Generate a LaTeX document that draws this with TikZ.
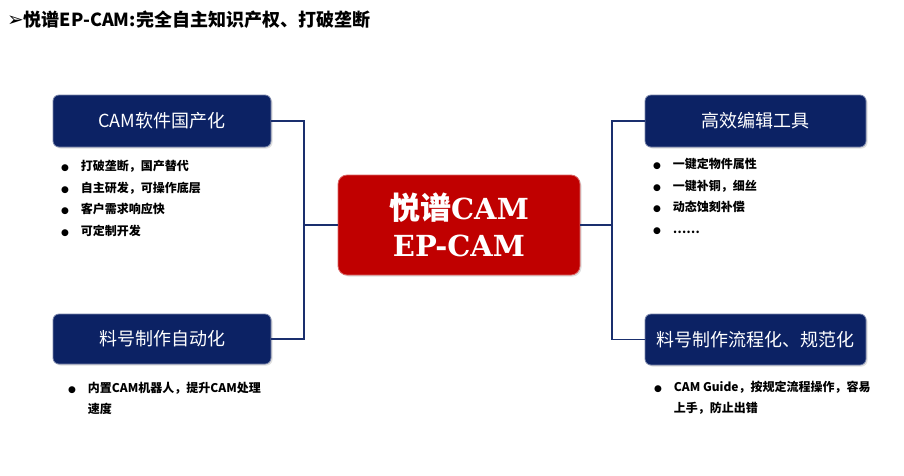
\documentclass[tikz,border=0pt]{standalone}
\usepackage{fontspec}
\setmainfont{Noto Sans CJK SC}
\newfontfamily\dingfont{DejaVu Sans}
\newfontfamily\corefont{DejaVu Serif}
\usepackage{tikz}
\usetikzlibrary{shadows}
\definecolor{dnavy}{HTML}{0C2264}
\definecolor{dline}{HTML}{1A2F6E}
\definecolor{dred}{HTML}{C00000}
\newcommand\itm{\makebox[19.7pt][l]{\dingfont\fontsize{9pt}{9pt}\selectfont ●}}
\newcommand\nxt{\hspace*{19.7pt}}
\tikzstyle{topic}=[rounded corners=6pt,fill=dnavy,draw=dnavy!55!white,line width=.8pt,text=white,
	minimum width=218pt,minimum height=52pt,inner sep=0pt,font=\fontsize{18pt}{18pt}\selectfont,
	drop shadow={shadow xshift=1.5pt,shadow yshift=-1.5pt,opacity=.25}]
\tikzstyle{corebox}=[rounded corners=9pt,fill=dred,draw=dred!60!white,line width=.8pt,text=white,
	minimum width=242pt,minimum height=100pt,align=center,
	font=\corefont\bfseries\fontsize{29pt}{37pt}\selectfont,
	drop shadow={shadow xshift=1.5pt,shadow yshift=-1.5pt,opacity=.25}]
\tikzstyle{link}=[draw=dline,line width=1.8pt]
\tikzstyle{items}=[align=left,anchor=base west,inner sep=0pt,font=\bfseries\fontsize{12pt}{21.7pt}\selectfont]
\begin{document}
\begin{tikzpicture}[x=1pt,y=-1pt]
	\useasboundingbox (0,0) rectangle (904,475);
	\node[anchor=west,inner sep=0pt,font=\bfseries\fontsize{18pt}{18pt}\selectfont] (title) at (7,20)
		{{\dingfont\fontsize{20pt}{20pt}\selectfont ➢}悦谱EP-CAM:完全自主知识产权、打破垄断};
	\node[corebox] (core) at (459,225) {{\rmfamily\fontsize{31pt}{37pt}\selectfont 悦谱}CAM\\EP-CAM};
	\node[topic] (soft) at (162,121) {CAM软件国产化};
	\node[topic,minimum height=50pt] (auto) at (162,339) {料号制作自动化};
	\node[topic,minimum width=221pt] (tool) at (755.5,121) {高效编辑工具};
	\node[topic,minimum width=221pt,minimum height=51pt] (flow) at (755.5,339.5) {料号制作流程化、规范化};
	\coordinate (lj) at (304,225);
	\coordinate (rj) at (612,225);
	\draw[link] (soft.east) -- (soft.east -| lj) -- (auto.east -| lj) -- (auto.east);
	\draw[link] (lj) -- (core.west);
	\draw[link] (tool.west) -- (tool.west -| rj) -- (flow.west -| rj) -- (flow.west);
	\draw[link] (rj) -- (core.east);
	% bullet lists under the topics (placed by their last line)
	\node[items] (softlist) at (61,235.6) {\itm 打破垄断，国产替代\\\itm 自主研发，可操作底层\\\itm 客户需求响应快\\\itm 可定制开发};
	\node[items] (toollist) at (653,233.6) {\itm 一键定物件属性\\\itm 一键补铜，细丝\\\itm 动态蚀刻补偿\\\itm ……};
	\node[items,font=\bfseries\fontsize{12pt}{20.5pt}\selectfont] (autolist) at (68,413) {\itm 内置CAM机器人，提升CAM处理\\\nxt 速度};
	\node[items,font=\bfseries\fontsize{12pt}{20.5pt}\selectfont] (flowlist) at (654,412) {\itm CAM Guide，按规定流程操作，容易\\\nxt 上手，防止出错};
\end{tikzpicture}
\end{document}
